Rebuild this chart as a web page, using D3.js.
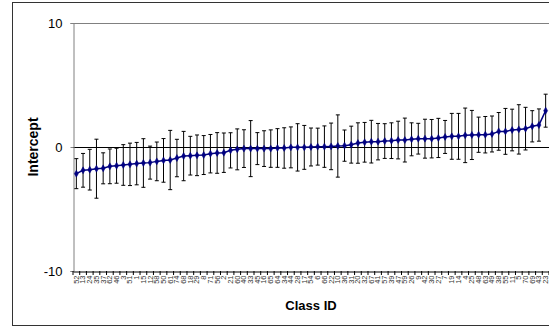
<!DOCTYPE html>
<html>
<head>
<meta charset="utf-8">
<script src="https://cdn.jsdelivr.net/npm/d3@7/dist/d3.min.js"></script>
<style>
  html, body { margin: 0; padding: 0; background: #fff; }
  svg { display: block; font-family: Arial, "Liberation Sans", sans-serif; }
</style>
</head>
<body>
<svg id="chart" width="549" height="327"></svg>
<script>
// Class IDs, ordered by estimated intercept
const classIds = [
  "52","13","24","35","37","62","46","3","51","1",
  "15","12","58","50","61","74","68","18","29","8",
  "71","56","2","21","60","40","33","45","16","65",
  "64","34","44","28","17","54","6","66","22","10",
  "36","31","20","32","67","41",
  "57","39","47","59","26","9","42","30","27","7",
  "19","14","4","25","48","63","49","38","55","11",
  "5","70","69","43","23"
];

// Estimated intercept per class
const intercepts = [
  -2.15,-1.88,-1.83,-1.75,-1.72,-1.56,-1.51,-1.45,-1.40,-1.34,-1.29,-1.26,-1.16,-1.08,-1.05,-0.89,-0.73,-0.70,-0.67,-0.65,-0.54,-0.48,-0.46,
  -0.27,-0.19,-0.13,-0.13,-0.13,-0.13,-0.13,-0.08,-0.08,-0.03,-0.03,-0.03,0.00,0.03,0.03,0.05,0.08,0.11,0.19,0.32,0.38,0.43,0.43,0.48,
  0.51,0.56,0.56,0.62,0.67,0.67,0.67,0.73,0.81,0.86,0.86,0.94,0.97,0.99,0.99,1.05,1.26,1.26,1.37,1.42,1.48,1.67,1.77,2.93
];

// Half-width of each interval (error bar extends this far above and below)
const intervalHalf = [
  1.21,1.36,1.64,2.38,1.25,1.40,1.41,1.64,1.71,1.71,1.96,1.33,1.56,1.76,2.39,1.51,1.99,1.56,1.64,1.57,1.55,1.64,1.59,
  1.42,1.65,1.52,2.26,1.29,1.44,1.51,1.56,1.63,1.65,1.91,1.77,1.53,1.49,1.67,1.88,2.51,1.26,1.49,1.63,1.60,1.72,1.47,1.40,
  1.44,1.52,1.77,1.33,1.24,1.57,1.55,1.58,1.33,1.85,1.85,2.20,1.98,1.42,1.47,1.45,1.52,1.85,1.68,1.99,1.72,1.26,1.30,1.33
];

const yTicks = [-10, 0, 10];

const data = classIds.map((id, i) => ({
  id, i, v: intercepts[i], lo: intercepts[i] - intervalHalf[i], hi: intercepts[i] + intervalHalf[i]
}));

const svg = d3.select("#chart");
const plot = { left: 73, right: 549, top: 23, bottom: 271 };
const font = "Arial, 'Liberation Sans', sans-serif";

// Outer chart frame
svg.append("rect")
  .attr("x", 12.5).attr("y", 2.5)
  .attr("width", 560).attr("height", 323)
  .attr("fill", "#fff").attr("stroke", "#333").attr("stroke-width", 1);

const x = d3.scaleBand()
  .domain(data.map(d => d.i))
  .range([plot.left, plot.right])
  .paddingInner(0).paddingOuter(0);

const y = d3.scaleLinear().domain([-10, 10]).range([plot.bottom, plot.top]);

const cx = d => x(d.i) + x.bandwidth() / 2;

// Top border of plot area
svg.append("line")
  .attr("x1", plot.left).attr("x2", 549)
  .attr("y1", y(10) + 0.5).attr("y2", y(10) + 0.5)
  .attr("stroke", "#808080").attr("stroke-width", 1);

// Zero reference line
svg.append("line")
  .attr("x1", plot.left).attr("x2", 549)
  .attr("y1", Math.round(y(0)) + 0.5).attr("y2", Math.round(y(0)) + 0.5)
  .attr("stroke", "#000").attr("stroke-width", 1);

// Y axis
const yAxis = svg.append("g")
  .attr("transform", `translate(${plot.left + 0.5},0)`)
  .call(d3.axisLeft(y).tickValues(yTicks).tickSize(3).tickPadding(8).tickFormat(d => String(d)));
yAxis.select(".domain").attr("stroke", "#808080");
yAxis.selectAll(".tick line").attr("stroke", "#808080");
yAxis.selectAll("text").attr("font-size", 13).attr("fill", "#000")
  .attr("font-family", font);

// X axis along the bottom, ticks at category boundaries
const xAxis = svg.append("g")
  .attr("transform", `translate(0,${plot.bottom + 0.5})`)
  .call(d3.axisBottom(x).tickSize(0).tickPadding(3).tickFormat(i => classIds[i]));
xAxis.select(".domain").attr("stroke", "#000");
xAxis.selectAll(".tick text")
  .attr("font-size", 7.5).attr("fill", "#333")
  .attr("font-family", font)
  .attr("text-anchor", "end")
  .attr("dy", "0.32em")
  .attr("transform", "translate(0,4) rotate(-90)")
  .attr("x", 0).attr("y", 0);

const bounds = data.map(d => x(d.i)).concat([plot.right]);
svg.append("g").selectAll("line").data(bounds).join("line")
  .attr("x1", b => b).attr("x2", b => b)
  .attr("y1", plot.bottom).attr("y2", plot.bottom + 4)
  .attr("stroke", "#000").attr("stroke-width", 1);

// Error bars
const capW = 2;
const eb = svg.append("g").attr("stroke", "#000").attr("stroke-width", 1);
eb.selectAll("line.stem").data(data).join("line").attr("class", "stem")
  .attr("x1", cx).attr("x2", cx)
  .attr("y1", d => y(d.hi)).attr("y2", d => y(d.lo));
eb.selectAll("line.capHi").data(data).join("line").attr("class", "capHi")
  .attr("x1", d => cx(d) - capW).attr("x2", d => cx(d) + capW)
  .attr("y1", d => y(d.hi)).attr("y2", d => y(d.hi));
eb.selectAll("line.capLo").data(data).join("line").attr("class", "capLo")
  .attr("x1", d => cx(d) - capW).attr("x2", d => cx(d) + capW)
  .attr("y1", d => y(d.lo)).attr("y2", d => y(d.lo));

// Series line
svg.append("path")
  .datum(data)
  .attr("fill", "none").attr("stroke", "#000080").attr("stroke-width", 1.5)
  .attr("d", d3.line().x(cx).y(d => y(d.v)));

// Diamond markers
svg.append("g").selectAll("path").data(data).join("path")
  .attr("transform", d => `translate(${cx(d)},${y(d.v)})`)
  .attr("d", d3.symbol(d3.symbolDiamond, 14))
  .attr("fill", "#000080").attr("stroke", "#000080").attr("stroke-width", 0.5);

// Axis titles
svg.append("text")
  .attr("transform", `translate(38,${y(0)}) rotate(-90)`)
  .attr("text-anchor", "middle")
  .attr("font-size", 14).attr("font-weight", "bold")
  .attr("font-family", font)
  .text("Intercept");

svg.append("text")
  .attr("x", 311).attr("y", 310)
  .attr("text-anchor", "middle")
  .attr("font-size", 13).attr("font-weight", "bold")
  .attr("font-family", font)
  .text("Class ID");
</script>
</body>
</html>
